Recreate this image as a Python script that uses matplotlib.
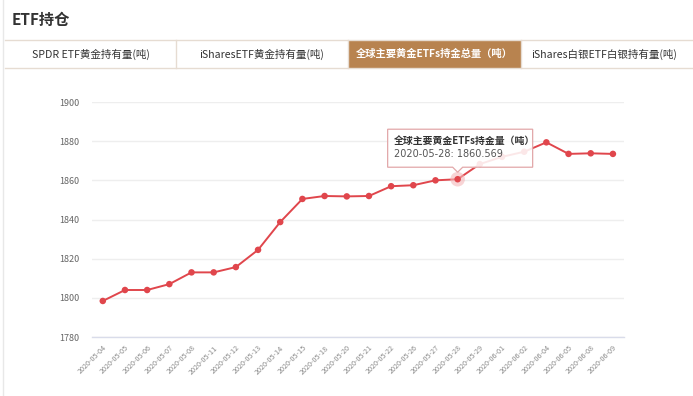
import matplotlib
matplotlib.use("Agg")
import matplotlib.pyplot as plt
from matplotlib.patches import Rectangle, Polygon
from matplotlib.lines import Line2D

plt.rcParams['font.family'] = ['Noto Sans CJK SC', 'DejaVu Sans']

dates = ["2020-05-04", "2020-05-05", "2020-05-06", "2020-05-07", "2020-05-08",
         "2020-05-11", "2020-05-12", "2020-05-13", "2020-05-14", "2020-05-15",
         "2020-05-18", "2020-05-20", "2020-05-21", "2020-05-22", "2020-05-26",
         "2020-05-27", "2020-05-28", "2020-05-29", "2020-06-01", "2020-06-02",
         "2020-06-04", "2020-06-05", "2020-06-08", "2020-06-09"]
values = [1798.4, 1804.0, 1804.0, 1807.0, 1813.0, 1813.0, 1815.7, 1824.5,
          1838.7, 1850.5, 1852.0, 1851.8, 1852.0, 1857.0, 1857.5, 1860.0,
          1860.569, 1868.3, 1872.0, 1874.6, 1879.4, 1873.5, 1873.8, 1873.5]
y_ticks = [1780, 1800, 1820, 1840, 1860, 1880, 1900]
tabs = ["SPDR ETF黄金持有量(吨)", "iSharesETF黄金持有量(吨)",
        "全球主要黄金ETFs持金总量（吨）", "iShares白银ETF白银持有量(吨)"]
active_tab = 2
title = "ETF持仓"
series_name = "全球主要黄金ETFs持金量（吨）"
hover_index = 16

W, H = 693, 396
fig = plt.figure(figsize=(W / 100, H / 100), dpi=100)
fig.patch.set_facecolor("white")

def fx(px):
    return px / W

def fy(py):
    return 1 - py / H

# page left border
fig.add_artist(Line2D([fx(3), fx(3)], [0, 1], color="#e8e8e8", lw=1, transform=fig.transFigure))

# title
fig.text(fx(12), fy(20), title, fontsize=11, fontweight="bold", color="#333333",
         ha="left", va="center")

# tab bar
tab_edges = [5, 176, 348, 521, 688]
fig.add_artist(Line2D([fx(5), fx(693)], [fy(40), fy(40)], color="#e6dcd2", lw=1, transform=fig.transFigure))
fig.add_artist(Line2D([fx(5), fx(693)], [fy(68), fy(68)], color="#e6dcd2", lw=1, transform=fig.transFigure))
for i, t in enumerate(tabs):
    x0, x1 = tab_edges[i], tab_edges[i + 1]
    if i == active_tab:
        fig.add_artist(Rectangle((fx(x0), fy(68)), fx(x1 - x0), (68 - 40) / H,
                                 facecolor="#b8834f", edgecolor="none", transform=fig.transFigure))
        fig.text(fx((x0 + x1) / 2), fy(54), t, fontsize=7.4, color="white", fontweight="bold",
                 ha="center", va="center")
    else:
        fig.text(fx((x0 + x1) / 2), fy(54), t, fontsize=7.6, color="#333333",
                 ha="center", va="center")
    if i > 0:
        fig.add_artist(Line2D([fx(x0), fx(x0)], [fy(68), fy(40)], color="#e6dcd2", lw=1,
                              transform=fig.transFigure))

# axes
ax = fig.add_axes([fx(91.7), fy(337), fx(624 - 91.7), (337 - 102) / H])
ax.set_facecolor("none")
x = list(range(len(dates)))
ax.set_xlim(-0.5, len(dates) - 0.5)
ax.set_ylim(y_ticks[0], y_ticks[-1])
ax.set_yticks(y_ticks)
ax.set_yticklabels([str(v) for v in y_ticks])
ax.set_xticks(x)
ax.set_xticklabels(dates, rotation=45, ha="right", va="top", rotation_mode="anchor",
                   fontsize=5.2, color="#8a8a8a")
ax.tick_params(axis="x", length=0, pad=5)
ax.tick_params(axis="y", length=0, pad=9, labelsize=6.5, labelcolor="#666666")
for s in ["top", "right", "left"]:
    ax.spines[s].set_visible(False)
ax.spines["bottom"].set_color("#d9dcea")
ax.spines["bottom"].set_linewidth(1)
ax.grid(axis="y", color="#eeeeee", lw=1)
ax.set_axisbelow(True)

red = "#e0464c"
ax.plot(x, values, color=red, lw=1.4, zorder=3)
ax.scatter(x, values, s=22, color=red, zorder=4, edgecolors="none")
# hover halo
ax.scatter([hover_index], [values[hover_index]], s=110, color="#f4b8ba", alpha=0.6,
           zorder=3.5, edgecolors="none")

# tooltip
fig.canvas.draw()
px, py = ax.transData.transform((hover_index, values[hover_index]))
ppx = px
ppy = H - py
bx0, bx1 = ppx - 70, ppx + 75
by0, by1 = ppy - 50, ppy - 12
tip = Polygon([[fx(bx0), fy(by0)], [fx(bx1), fy(by0)], [fx(bx1), fy(by1)],
               [fx(ppx + 5), fy(by1)], [fx(ppx), fy(by1 + 5)], [fx(ppx - 5), fy(by1)],
               [fx(bx0), fy(by1)]],
              closed=True, facecolor=(1, 1, 1, 0.88), edgecolor="#e2a7a9", lw=0.9,
              transform=fig.transFigure, zorder=10)
fig.add_artist(tip)
fig.text(fx(bx0 + 6), fy(by0 + 12), series_name, fontsize=7.1, fontweight="bold",
         color="#333333", ha="left", va="center", zorder=11)
fig.text(fx(bx0 + 6), fy(by0 + 25), f"{dates[hover_index]}: {values[hover_index]}",
         fontsize=7.0, color="#555555", ha="left", va="center", zorder=11,
         family=["DejaVu Sans"])

fig.savefig("out.png", dpi=100, facecolor="white")
